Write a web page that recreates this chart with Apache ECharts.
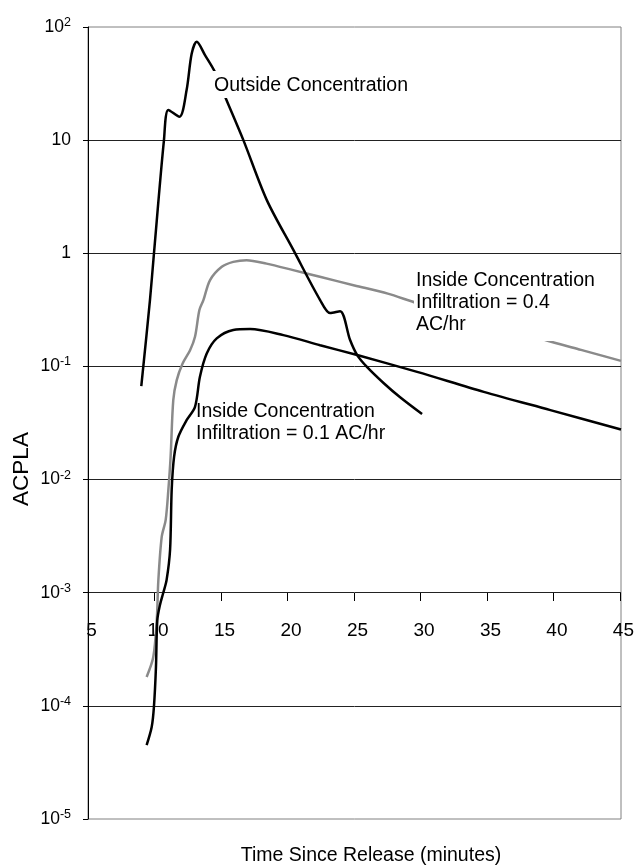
<!DOCTYPE html>
<html>
<head>
<meta charset="utf-8">
<script src="https://cdn.jsdelivr.net/npm/echarts@6/dist/echarts.min.js"></script>
<style>
html,body{margin:0;padding:0;background:#fff;}
#chart{width:637px;height:865px;}
</style>
</head>
<body>
<div id="chart"></div>
<script>
// Outside Concentration
var outsideTime  = [9.0, 9.65, 9.95, 10.7, 11.03, 11.86, 12.4, 12.78, 13.16, 13.78, 14.53, 15.29, 16.66, 18.42, 20.41, 22.42, 23.17, 23.92, 24.67, 25.2, 25.95, 27.2, 28.4, 30.07];
var outsideValue = [0.067, 0.385, 1.0, 10, 18.5, 16.1, 27.7, 58, 74, 56.5, 40, 24.2, 10, 2.95, 1.07, 0.386, 0.296, 0.308, 0.171, 0.126, 0.0986, 0.071, 0.0536, 0.0379];
// Inside Concentration, Infiltration = 0.4 AC/hr
var inside04Time  = [9.4, 9.9, 10.16, 10.28, 10.53, 10.83, 11.03, 11.2, 11.4, 11.66, 12.1, 12.66, 13.03, 13.36, 13.66, 14.16, 15.04, 15.9, 16.9, 18.4, 20.4, 22.4, 25.0, 27.5, 29.7, 32.0, 35.0, 37.0, 39.2, 42.0, 45.0];
var inside04Value = [1.8e-4, 2.7e-4, 5.7e-4, 1.29e-3, 3.1e-3, 4.4e-3, 8.1e-3, 0.0159, 0.0504, 0.0757, 0.106, 0.139, 0.183, 0.315, 0.385, 0.58, 0.76, 0.84, 0.87, 0.81, 0.71, 0.62, 0.52, 0.44, 0.363, 0.31, 0.25, 0.21, 0.173, 0.14, 0.112];
// Inside Concentration, Infiltration = 0.1 AC/hr
var inside01Time  = [9.4, 9.78, 9.95, 10.1, 10.2, 10.4, 10.65, 10.9, 11.16, 11.28, 11.46, 11.78, 12.4, 13.03, 13.4, 13.91, 14.66, 15.9, 17.16, 19.66, 22.42, 25.2, 29.7, 34.7, 39.7, 45.0];
var inside01Value = [4.5e-5, 6.5e-5, 9.9e-5, 2.2e-4, 5.7e-4, 7.8e-4, 1.0e-3, 1.3e-3, 2.4e-3, 8.1e-3, 0.0159, 0.0239, 0.0335, 0.044, 0.081, 0.130, 0.177, 0.21, 0.214, 0.189, 0.154, 0.126, 0.0895, 0.0596, 0.0411, 0.0277];
var xTicks = [5, 10, 15, 20, 25, 30, 35, 40, 45];

function pairs(t, v) { return t.map(function (x, i) { return [x, v[i]]; }); }

var FONT = '"Liberation Sans", Arial, sans-serif';
var chart = echarts.init(document.getElementById('chart'), null, {renderer: 'canvas'});

function yLabel(v) {
  var e = Math.round(Math.log10(v));
  if (e === 0) return '{m|1}';
  if (e === 1) return '{m|10}';
  return '{m|10}{s|' + e + '}';
}

var option = {
  backgroundColor: '#fff',
  animation: false,
  grid: [
    {left: 88, right: 16, top: 27, bottom: 46, show: true, borderColor: '#808080', borderWidth: 1, backgroundColor: 'transparent'},
    {left: 88, right: 16, top: 592, height: 1, show: false}
  ],
  xAxis: [
    {type: 'value', gridIndex: 0, min: 5, max: 45, interval: 5,
     axisLine: {show: false}, axisTick: {show: false}, axisLabel: {show: false}, splitLine: {show: false}},
    {type: 'value', gridIndex: 1, min: 5, max: 45, interval: 5, position: 'bottom',
     axisLine: {show: false},
     axisTick: {show: true, length: 8, lineStyle: {color: '#000', width: 1}},
     axisLabel: {show: true, margin: 28, fontSize: 19, fontFamily: FONT, color: '#000', padding: [0, 0, 0, 7]},
     splitLine: {show: false}}
  ],
  yAxis: [
    {type: 'log', gridIndex: 0, logBase: 10, min: 1e-5, max: 100, splitNumber: 7,
     axisLine: {show: true, lineStyle: {color: '#000', width: 1}},
     axisTick: {show: true, inside: false, length: 5, lineStyle: {color: '#000'}},
     axisLabel: {margin: 17, formatter: yLabel, fontFamily: FONT, color: '#000',
       rich: {
         m: {fontSize: 17.5, fontFamily: FONT, color: '#000', lineHeight: 22},
         s: {fontSize: 12.5, fontFamily: FONT, color: '#000', verticalAlign: 'top', lineHeight: 14}
       }},
     splitLine: {show: true, showMinLine: false, showMaxLine: false, lineStyle: {color: '#222', width: 1}}},
    {type: 'value', gridIndex: 1, min: 0, max: 1, show: false}
  ],
  series: [
    {type: 'line', name: 'Outside Concentration', xAxisIndex: 0, yAxisIndex: 0,
     data: pairs(outsideTime, outsideValue), smooth: 0.3, showSymbol: false,
     lineStyle: {color: '#000', width: 2.5}, z: 3},
    {type: 'line', name: 'Inside 0.4', xAxisIndex: 0, yAxisIndex: 0,
     data: pairs(inside04Time, inside04Value), smooth: 0.3, showSymbol: false,
     lineStyle: {color: '#8a8a8a', width: 2.5}, z: 2},
    {type: 'line', name: 'Inside 0.1', xAxisIndex: 0, yAxisIndex: 0,
     data: pairs(inside01Time, inside01Value), smooth: 0.3, showSymbol: false,
     lineStyle: {color: '#000', width: 2.5}, z: 3}
  ],
  graphic: [
    {type: 'text', z: 100, left: 211, top: 71,
     style: {text: 'Outside Concentration', font: '19.5px ' + FONT, fill: '#000',
             backgroundColor: '#fff', padding: [5, 2, 2, 3], lineHeight: 20}},
    {type: 'text', z: 100, left: 414, top: 265,
     style: {text: 'Inside Concentration\nInfiltration = 0.4\nAC/hr', font: '19.5px ' + FONT, fill: '#000',
             backgroundColor: '#fff', padding: [5, 10, 5, 2], lineHeight: 22}},
    {type: 'text', z: 100, left: 196, top: 400,
     style: {text: 'Inside Concentration\nInfiltration = 0.1 AC/hr', font: '19.5px ' + FONT, fill: '#000', lineHeight: 22.7}},
    {type: 'text', z: 100, x: 22, y: 469, rotation: Math.PI / 2,
     style: {text: 'ACPLA', font: '22.5px ' + FONT, fill: '#000', align: 'center', verticalAlign: 'middle'}},
    {type: 'text', z: 100, x: 371, y: 855.5,
     style: {text: 'Time Since Release (minutes)', font: '19.5px ' + FONT, fill: '#000', align: 'center', verticalAlign: 'middle'}}
  ]
};
chart.setOption(option);
</script>
</body>
</html>
